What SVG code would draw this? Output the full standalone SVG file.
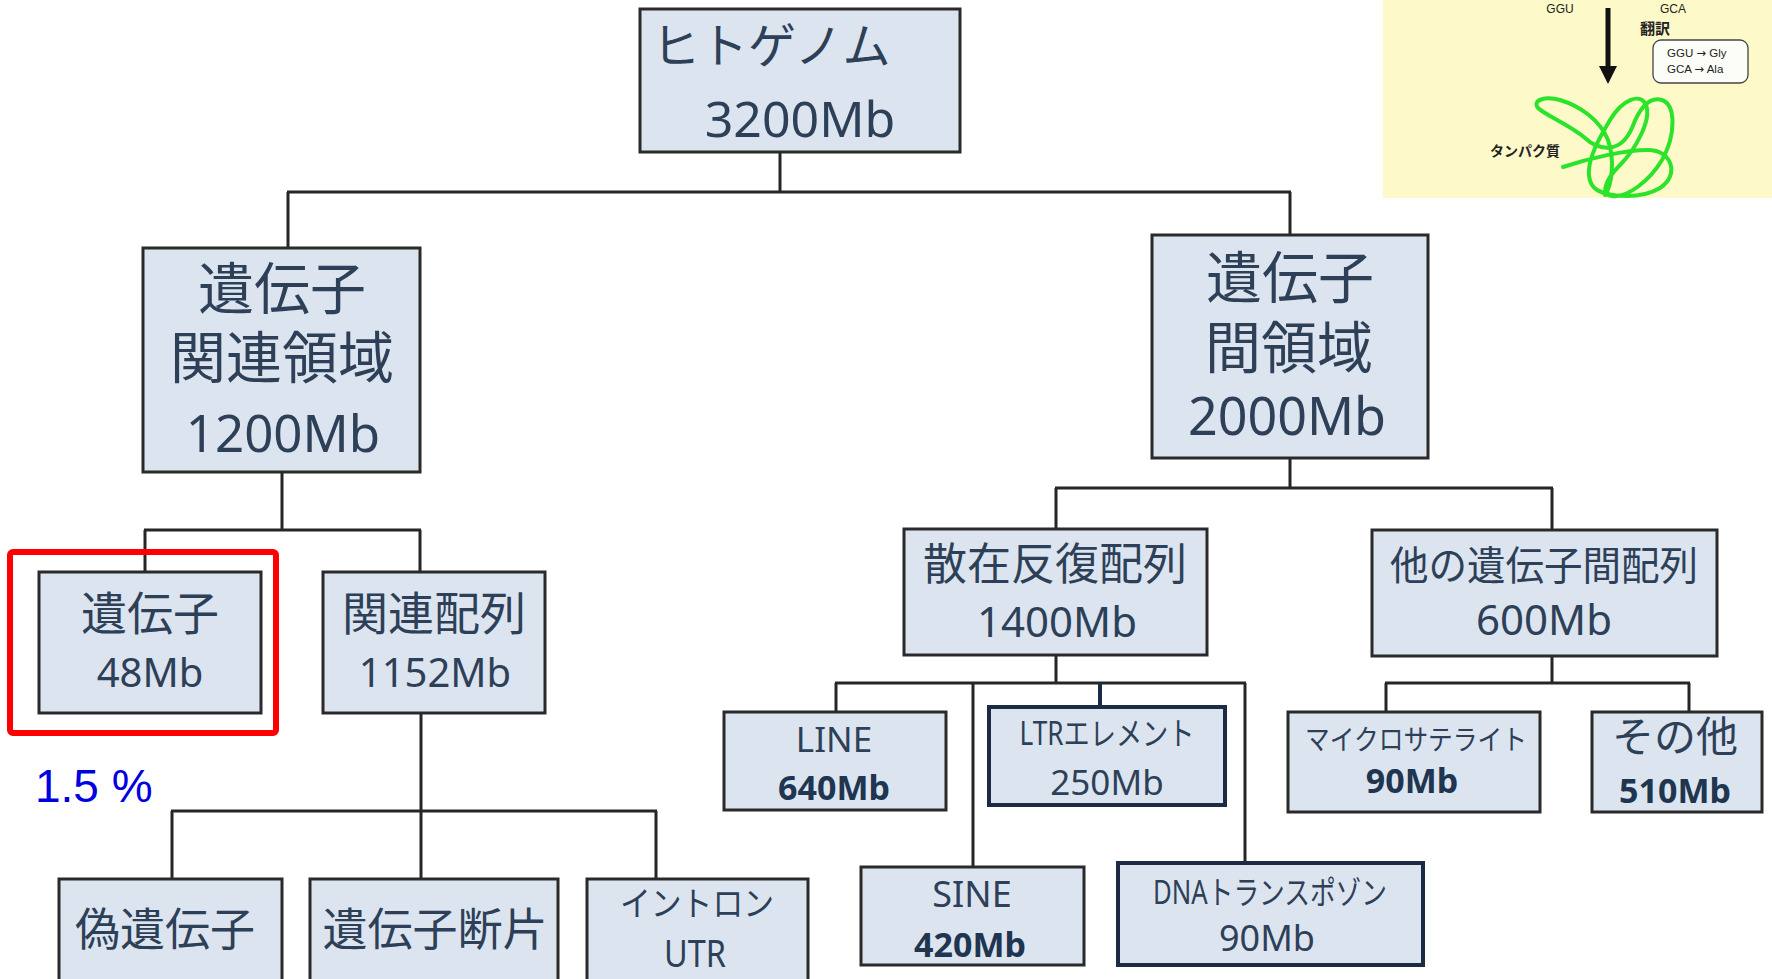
<svg xmlns="http://www.w3.org/2000/svg" width="1772" height="979" viewBox="0 0 1772 979">
  <style>
    .box { fill: #dce5ef; stroke: #2a2a2a; stroke-width: 3; }
    .box-navy { fill: #dce5ef; stroke: #1c2a44; stroke-width: 4; }
    .lbl { font-family: 'Noto Sans', 'Noto Sans CJK JP', sans-serif; fill: #2d4058; text-anchor: middle; }
    .num { font-family: 'Noto Sans', 'Noto Sans CJK JP', sans-serif; fill: #2d4058; text-anchor: middle; }
    .bold { font-family: 'Noto Sans', 'Noto Sans CJK JP', sans-serif; fill: #203550; font-weight: bold; text-anchor: middle; }
    .link { fill: none; stroke: #262626; stroke-width: 3; }
    .small { font-family: 'Liberation Sans', 'Noto Sans CJK JP', sans-serif; fill: #222; }
    .arrow-glyph { font-family: 'DejaVu Sans', sans-serif; }
  </style>
  <rect width="1772" height="979" fill="#ffffff"/>

  <!-- translation inset, top right -->
  <g id="inset">
    <rect x="1383" y="0" width="389" height="198" fill="#fdf9c9"/>
    <text class="small" x="1560" y="13" font-size="12" text-anchor="middle">GGU</text>
    <text class="small" x="1673" y="13" font-size="12" text-anchor="middle">GCA</text>
    <line x1="1608" y1="8" x2="1608" y2="68" stroke="#111" stroke-width="5"/>
    <path d="M1599,66 L1617,66 L1608,84 z" fill="#111"/>
    <text class="small" x="1640" y="34" font-size="15" font-weight="bold">翻訳</text>
    <rect x="1653" y="40" width="95" height="43" rx="8" fill="#fdfdf8" stroke="#444" stroke-width="1.3"/>
    <text class="small" x="1667" y="57" font-size="11.5">GGU <tspan class="arrow-glyph">→</tspan> Gly</text>
    <text class="small" x="1667" y="73" font-size="11.5">GCA <tspan class="arrow-glyph">→</tspan> Ala</text>
    <text class="small" x="1490" y="156" font-size="14" font-weight="bold">タンパク質</text>
    <!-- protein chain scribble -->
    <path d="M1563,167 C1590,158 1625,150 1648,150 C1672,150 1680,175 1660,188 C1640,200 1600,198 1592,185 C1582,168 1598,140 1610,120 C1622,100 1640,92 1646,105 C1652,120 1635,150 1620,165 C1605,180 1600,195 1612,196 C1628,198 1650,180 1662,160 C1676,135 1676,105 1662,100 C1648,96 1638,112 1632,128 C1620,155 1598,150 1585,138 C1570,125 1545,115 1538,108 C1532,100 1545,96 1560,100 C1580,106 1600,120 1608,140 C1615,160 1612,185 1605,195"
      fill="none" stroke="#2be32b" stroke-width="4" stroke-linecap="round" stroke-linejoin="round"/>
  </g>

  <!-- tree connectors -->
  <g id="connectors">
    <path class="link" d="M780,152 V192 M287,192 H1291 M288,192 V248 M1290,192 V235"/>
    <path class="link" d="M282,472 V530 M144,530 H421 M145,530 V572 M420,530 V572"/>
    <path class="link" d="M421,713 V879 M171,811 H657 M172,811 V879 M656,811 V879"/>
    <path class="link" d="M1290,458 V488 M1055,488 H1553 M1056,488 V529 M1552,488 V530"/>
    <path class="link" d="M1056,655 V683 M835,683 H1246 M836,683 V712 M973,683 V867 M1245,683 V863"/>
    <path d="M1100,683 V707" fill="none" stroke="#1c2a44" stroke-width="4"/>
    <path class="link" d="M1552,656 V683 M1385,683 H1690 M1386,683 V712 M1689,683 V712"/>
  </g>

  <g id="genome">
    <rect class="box" x="640" y="9" width="320" height="143"/>
    <text class="lbl" x="652" y="63" font-size="48" style="text-anchor:start">ヒトゲノム</text>
    <text class="num" x="800" y="137" font-size="50">3200Mb</text>
  </g>

  <g id="gene-related">
    <rect class="box" x="143" y="248" width="277" height="224"/>
    <text class="lbl" x="282" y="309" font-size="56">遺伝子</text>
    <text class="lbl" x="282" y="378" font-size="56">関連領域</text>
    <text class="num" x="283" y="452" font-size="51">1200Mb</text>
  </g>

  <g id="intergenic">
    <rect class="box" x="1152" y="235" width="276" height="223"/>
    <text class="lbl" x="1290" y="298" font-size="56">遺伝子</text>
    <text class="lbl" x="1289" y="368" font-size="56">間領域</text>
    <text class="num" x="1287" y="435" font-size="52">2000Mb</text>
  </g>

  <g id="gene">
    <rect class="box" x="39" y="572" width="222" height="141"/>
    <text class="lbl" x="150" y="630" font-size="46">遺伝子</text>
    <text class="num" x="150" y="687" font-size="40">48Mb</text>
    <rect x="10" y="552" width="266" height="181" rx="3" fill="none" stroke="#ff0000" stroke-width="6"/>
    <text x="35" y="802" font-family="'Liberation Sans', Arial, sans-serif" font-size="46" fill="#0000e0">1.5 %</text>
  </g>

  <g id="related-seq">
    <rect class="box" x="323" y="572" width="222" height="141"/>
    <text class="lbl" x="434" y="630" font-size="46">関連配列</text>
    <text class="num" x="435" y="687" font-size="40">1152Mb</text>
  </g>

  <g id="pseudogene">
    <rect class="box" x="59" y="879" width="223" height="110"/>
    <text class="lbl" x="165" y="946" font-size="45">偽遺伝子</text>
  </g>

  <g id="gene-fragment">
    <rect class="box" x="310" y="879" width="248" height="110"/>
    <text class="lbl" x="435" y="946" font-size="45">遺伝子断片</text>
  </g>

  <g id="intron-utr">
    <rect class="box" x="587" y="879" width="221" height="110"/>
    <text class="lbl" x="697" y="916" font-size="34" textLength="154" lengthAdjust="spacingAndGlyphs">イントロン</text>
    <text class="num" x="695" y="967" font-size="38" textLength="62" lengthAdjust="spacingAndGlyphs">UTR</text>
  </g>

  <g id="interspersed">
    <rect class="box" x="904" y="529" width="303" height="126"/>
    <text class="lbl" x="1055" y="580" font-size="44">散在反復配列</text>
    <text class="num" x="1057" y="637" font-size="42">1400Mb</text>
  </g>

  <g id="other-intergenic">
    <rect class="box" x="1372" y="530" width="345" height="126"/>
    <text class="lbl" x="1544" y="580" font-size="40" textLength="308" lengthAdjust="spacingAndGlyphs">他の遺伝子間配列</text>
    <text class="num" x="1544" y="635" font-size="42">600Mb</text>
  </g>

  <g id="line">
    <rect class="box" x="724" y="712" width="222" height="98"/>
    <text class="num" x="834" y="752" font-size="35">LINE</text>
    <text class="bold" x="834" y="800" font-size="34">640Mb</text>
  </g>

  <g id="ltr">
    <rect class="box-navy" x="989" y="707" width="236" height="98"/>
    <text class="lbl" x="1107" y="745" font-size="32" textLength="175" lengthAdjust="spacingAndGlyphs">LTRエレメント</text>
    <text class="num" x="1107" y="795" font-size="35">250Mb</text>
  </g>

  <g id="sine">
    <rect class="box" x="861" y="867" width="223" height="98"/>
    <text class="num" x="972" y="907" font-size="36">SINE</text>
    <text class="bold" x="970" y="957" font-size="34">420Mb</text>
  </g>

  <g id="dna-transposon">
    <rect class="box-navy" x="1118" y="863" width="305" height="102"/>
    <text class="lbl" x="1270" y="904" font-size="32" textLength="234" lengthAdjust="spacingAndGlyphs">DNAトランスポゾン</text>
    <text class="num" x="1267" y="951" font-size="36">90Mb</text>
  </g>

  <g id="microsatellite">
    <rect class="box" x="1288" y="712" width="252" height="100"/>
    <text class="lbl" x="1416" y="750" font-size="28" textLength="222" lengthAdjust="spacingAndGlyphs">マイクロサテライト</text>
    <text class="bold" x="1412" y="793" font-size="34">90Mb</text>
  </g>

  <g id="others">
    <rect class="box" x="1592" y="712" width="170" height="100"/>
    <text class="lbl" x="1675" y="752" font-size="42">その他</text>
    <text class="bold" x="1675" y="803" font-size="34">510Mb</text>
  </g>
</svg>
